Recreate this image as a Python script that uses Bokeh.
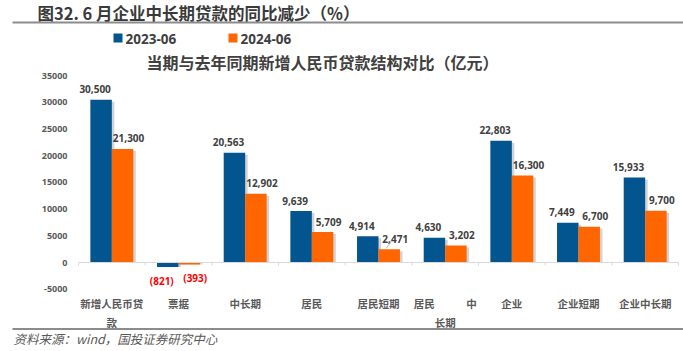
import numpy as np
from bokeh.plotting import figure
from bokeh.models import Range1d, ColumnDataSource
from bokeh.core.properties import value
from bokeh.embed import file_html
from bokeh.resources import INLINE

# ---------------- data ----------------
categories = ["新增人民币贷款", "票据", "中长期", "居民", "居民短期", "居民中长期",
              "企业", "企业短期", "企业中长期"]
category_labels = ["新增人民币贷\n款", "票据", "中长期", "居民", "居民短期",
                   "居民\u3000\u3000\u3000中\n长期", "企业", "企业短期", "企业中长期"]
series_names = ["2023-06", "2024-06"]
values_2023 = [30500, -821, 20563, 9639, 4914, 4630, 22803, 7449, 15933]
values_2024 = [21300, -393, 12902, 5709, 2471, 3202, 16300, 6700, 9700]
y_ticks = [-5000, 0, 5000, 10000, 15000, 20000, 25000, 30000, 35000]

title_text = "图32. 6 月企业中长期贷款的同比减少（%）"
chart_title = "当期与去年同期新增人民币贷款结构对比（亿元）"
source_text = "资料来源：wind，国投证券研究中心"

# ---------------- layout helpers ----------------
W, H = 683, 351
X0_PX = 78.0                 # left edge of first category
CAT_PX = 600.0 / len(categories)
ZERO_PX = 262.0              # pixel row of value 0
UNITS_PER_PX = 5000 / 26.67

def px2x(px):
    return (px - X0_PX) / CAT_PX

def px2y(py):
    return (ZERO_PX - py) * UNITS_PER_PX

BLUE = "#03558F"
ORANGE = "#FF6600"
CJK = "Noto Sans CJK SC"
NUM = "Open Sans"

p = figure(width=W, height=H, output_backend="svg", toolbar_location=None,
           x_range=Range1d(px2x(0), px2x(W)), y_range=Range1d(px2y(H), px2y(0)),
           min_border=0, outline_line_color=None, background_fill_color="white",
           border_fill_color="white")
p.axis.visible = False
p.grid.visible = False

n = len(categories)
centers = np.arange(n) + 0.5
bw = 0.322
off = 0.161
v23 = np.array(values_2023, dtype=float)
v24 = np.array(values_2024, dtype=float)

# ---- shadows ----
sh_dx = 2.5 / CAT_PX
sh_dy = 2.0 * UNITS_PER_PX
for xs, vals in ((centers - off, v23), (centers + off, v24)):
    tops = np.where(vals > 0, vals - sh_dy, vals)
    p.vbar(x=xs + sh_dx, top=tops, bottom=0, width=bw, fill_color="#7f7f7f",
           fill_alpha=0.35, line_color=None)

# ---- bars ----
src = ColumnDataSource(dict(x23=centers - off, x24=centers + off, v23=v23, v24=v24))
p.vbar(x="x23", top="v23", bottom=0, width=bw, source=src, fill_color=BLUE, line_color=None)
p.vbar(x="x24", top="v24", bottom=0, width=bw, source=src, fill_color=ORANGE, line_color=None)

# ---- zero axis line and ticks ----
p.segment(x0=[0], y0=[0], x1=[n], y1=[0], line_color="#d9d9d9", line_width=1)
bounds = np.arange(n + 1)
p.segment(x0=bounds, y0=np.zeros(n + 1), x1=bounds, y1=np.full(n + 1, -3 * UNITS_PER_PX),
          line_color="#d9d9d9", line_width=1)

# ---- data labels ----
def fmt(v):
    return "({:,})".format(int(abs(v))) if v < 0 else "{:,}".format(int(v))

lab_gap = 10.5 * UNITS_PER_PX
for xs, vals, dx in ((centers - off, v23, -6), (centers + off, v24, 6)):
    ys = np.where(vals >= 0, vals + lab_gap, vals - 1.3 * lab_gap)
    cols = ["#404040" if v >= 0 else "#FF0000" for v in vals]
    p.text(x=list(xs), y=list(ys), text=[fmt(v) for v in vals], text_color=cols,
           x_offset=dx, text_font=value(NUM), text_font_style="bold",
           text_font_size="10px", text_align="center", text_baseline="middle")

# leader line for small label
i_short = categories.index("居民短期")
p.segment(x0=[centers[i_short] + off + 2 / CAT_PX], y0=[v24[i_short] + 8 * UNITS_PER_PX],
          x1=[centers[i_short] + off - 3 / CAT_PX], y1=[v24[i_short] + 1 * UNITS_PER_PX],
          line_color="#a6a6a6", line_width=0.8)

# ---- category labels ----
p.text(x=list(centers), y=[px2y(295)] * n, text=category_labels, text_color="#595959",
       text_font=value(CJK), text_font_style="bold", text_font_size="10.5px",
       text_align="center", text_baseline="top", text_line_height=1.3)

# ---- y tick labels ----
p.text(x=[px2x(67)] * len(y_ticks), y=y_ticks, text=[str(t) for t in y_ticks],
       text_color="#595959", text_font=value(NUM), text_font_style="bold",
       text_font_size="9px", text_align="right", text_baseline="middle")

# ---- titles, legend, source ----
p.text(x=[px2x(37)], y=[px2y(12.5)], text=[title_text], text_color="#3a3a3a",
       text_font=value(CJK), text_font_style="bold", text_font_size="16.5px",
       text_align="left", text_baseline="middle")
p.segment(x0=[px2x(12)], y0=[px2y(22)], x1=[px2x(W)], y1=[px2y(22)],
          line_color="#8c8c8c", line_width=2)

p.scatter(x=[px2x(117.5), px2x(232.5)], y=[px2y(37.5)] * 2, marker="square", size=9,
          fill_color=[BLUE, ORANGE], line_color=None)
p.text(x=[px2x(125), px2x(240)], y=[px2y(38)] * 2, text=series_names,
       text_color="#404040", text_font=value(NUM), text_font_style="bold",
       text_font_size="13.5px", text_align="left", text_baseline="middle")

p.text(x=[px2x(322)], y=[px2y(61)], text=[chart_title], text_color="#404040",
       text_font=value(CJK), text_font_style="bold", text_font_size="16px",
       text_align="center", text_baseline="middle")

p.segment(x0=[px2x(12)], y0=[px2y(328.5)], x1=[px2x(W)], y1=[px2y(328.5)],
          line_color="#8c8c8c", line_width=2)
p.text(x=[px2x(13)], y=[px2y(337.5)], text=[source_text], text_color="#595959",
       text_font=value(CJK), text_font_style="italic", text_font_size="12.5px",
       text_align="left", text_baseline="middle")

open("out.html", "w").write(file_html(p, INLINE))
